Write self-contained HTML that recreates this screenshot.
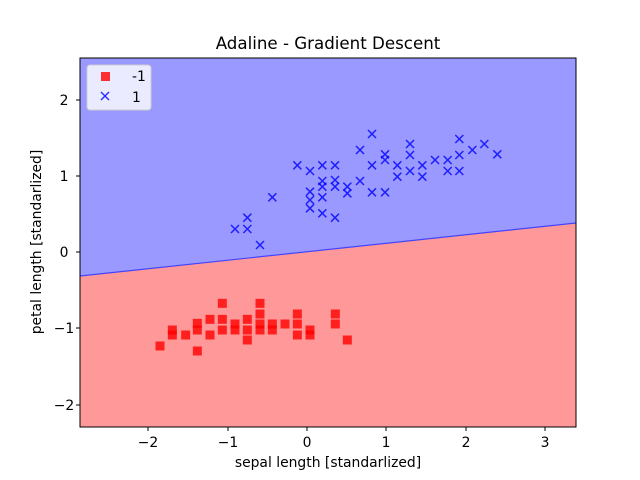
<!DOCTYPE html><html><head><style>body{margin:0;background:#fff}svg{display:block;font-family:"DejaVu Sans","Liberation Sans",sans-serif}</style></head><body>
<svg id="s" width="640" height="480" xmlns="http://www.w3.org/2000/svg">
<rect width="640" height="480" fill="#fff"/>
<rect x="80" y="58" width="496" height="369" fill="#9999ff"/>
<polygon points="80,276 576,223 576,427 80,427" fill="#ff9999"/>
<line x1="80" y1="276" x2="576" y2="223" stroke="#4444ff" stroke-width="1.2"/>
<g id="pts"></g>
<rect x="80" y="58" width="496" height="369" fill="none" stroke="#000" stroke-width="1"/>
<g font-size="13.9" fill="#000" text-anchor="middle">
<text x="328" y="49" font-size="16.67">Adaline - Gradient Descent</text>
<text x="328" y="467">sepal length [standarlized]</text>
<text transform="translate(41,242) rotate(-90)">petal length [standarlized]</text>
<g id="tk"></g>
</g>
<rect x="87" y="65" width="64" height="45" rx="3" fill="#fff" fill-opacity="0.8" stroke="#ccc"/>
<rect x="101" y="72" width="9" height="9" fill="#ff0000" opacity="0.8"/>
<text x="132" y="81" font-size="13.9">-1</text>
<path d="M101,92 l8,8 M109,92 l-8,8" stroke="#0000ff" stroke-width="1.5" opacity="0.8"/>
<text x="132" y="102" font-size="13.9">1</text>
</svg>
<script>
var g=document.getElementById('pts'),t=document.getElementById('tk'),h='';
var r=[[60,168],[97,120],[97,135],[137,135],[172,100],[172,120],[172,183],[210,88],[210,135],[247,40],[247,88],[247,120],[285,102],[285,120],[322,88],[322,120],[322,150],[360,40],[360,72],[360,102],[360,120],[397,102],[397,120],[435,102],[472,72],[472,102],[472,135],[510,120],[510,135],[586,72],[586,102],[622,150]];
r.forEach(function(p){var x=140+p[0]/3,y=290+p[1]/3;h+='<rect x="'+(x-4.5)+'" y="'+(y-4.5)+'" width="9" height="9" fill="#ff0000" opacity="0.8"/>';});
var b=[[456,42],[420,90],[495,103],[495,120],[570,72],[570,105],[718,57],[718,105],[757,90],[793,72],[832,103],[232,136],[270,153],[307,136],[345,136],[456,136],[532,136],[570,153],[607,136],[645,120],[683,120],[683,153],[718,153],[532,170],[607,170],[307,183],[345,180],[307,200],[345,200],[382,200],[382,220],[420,183],[456,217],[495,217],[270,215],[270,240],[270,265],[307,232],[157,232],[307,280],[345,293],[82,293],[45,327],[82,327],[120,375]];
b.forEach(function(p){var x=220+p[0]/3,y=120+p[1]/3;h+='<path d="M'+(x-4)+','+(y-4)+' l8,8 M'+(x+4)+','+(y-4)+' l-8,8" stroke="#0000ff" stroke-width="1.5" opacity="0.8"/>';});
g.innerHTML=h;h='';
[[-2,148],[-1,228],[0,307],[1,386],[2,466],[3,545]].forEach(function(a){h+='<line x1="'+a[1]+'" y1="427" x2="'+a[1]+'" y2="431" stroke="#000"/><text x="'+a[1]+'" y="447">'+(a[0]<0?'−'+(-a[0]):a[0])+'</text>';});
[[2,100],[1,176],[0,252],[-1,328],[-2,405]].forEach(function(a){h+='<line x1="76" y1="'+a[1]+'" x2="80" y2="'+a[1]+'" stroke="#000"/><text x="64" y="'+(a[1]+5)+'">'+(a[0]<0?'−'+(-a[0]):a[0])+'</text>';});
t.innerHTML=h;
</script>
</body></html>
